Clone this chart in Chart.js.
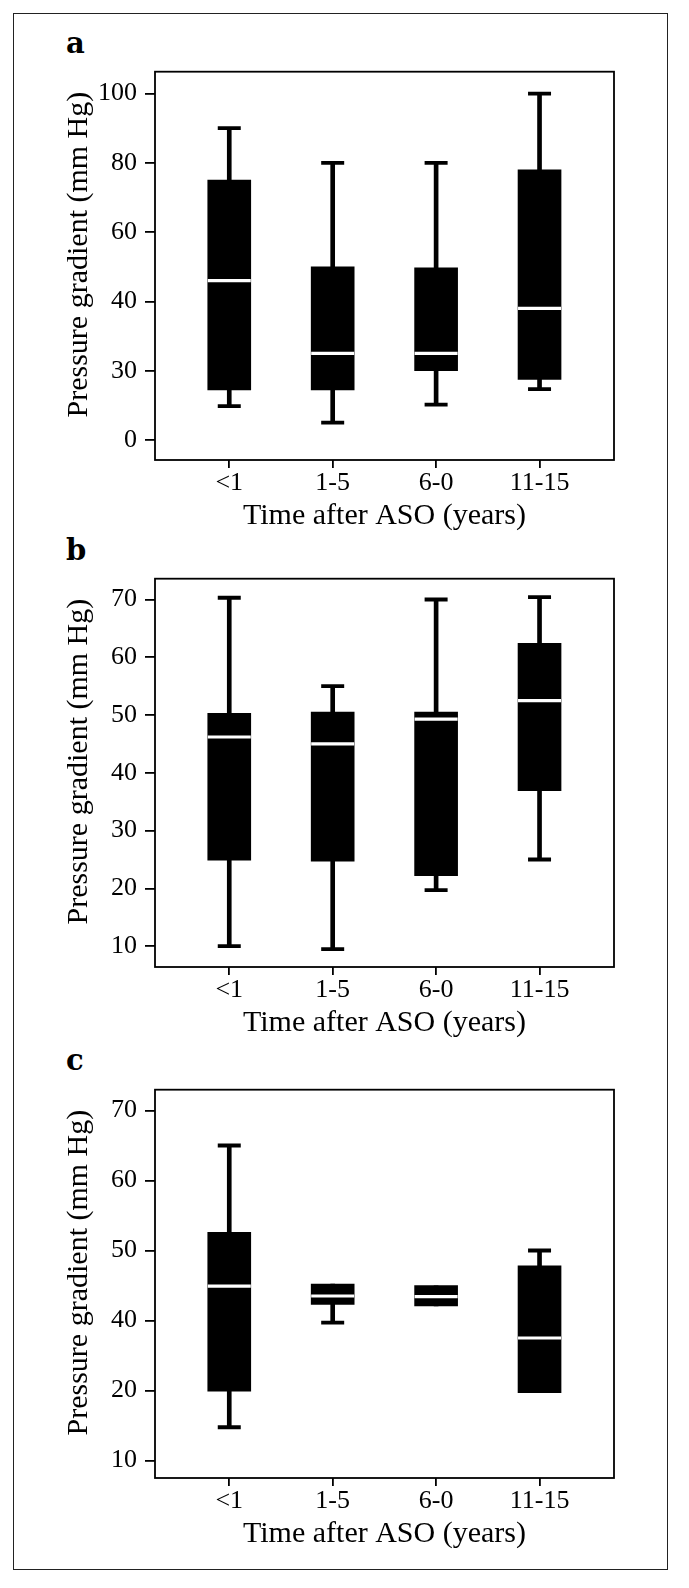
<!DOCTYPE html>
<html>
<head>
<meta charset="utf-8">
<script src="https://cdn.jsdelivr.net/npm/chart.js@4.4.1/dist/chart.umd.min.js"></script>
<style>
  body { margin: 0; background: #fff; width: 689px; height: 1588px; position: relative; overflow: hidden; }
  #frame { position: absolute; left: 13px; top: 13px; width: 655px; height: 1557px; box-sizing: border-box; border: 1.5px solid #222; }
  canvas { position: absolute; left: 20px; }
  .tag { position: absolute; left: 66px; font: bold 29px 'DejaVu Serif', serif; line-height: normal; color: #000; }
</style>
</head>
<body>
<div id="frame"></div>
<div class="tag" style="top:26px">a</div>
<div class="tag" style="top:533px">b</div>
<div class="tag" style="top:1043px">c</div>
<canvas id="cA" width="640" height="493" style="top:47px"></canvas>
<canvas id="cB" width="640" height="493" style="top:554px"></canvas>
<canvas id="cC" width="640" height="493" style="top:1065px"></canvas>
<script>
// ── Data ─────────────────────────────────────────────────
const cats = ['<1', '1-5', '6-0', '11-15'];
const xTitle = 'Time after ASO (years)';
const yTitle = 'Pressure gradient (mm Hg)';

// panel a
const aMin = [9.8, 5, 10.2, 14.7];
const aQ1  = [14.5, 14.5, 20, 17.5];
const aMed = [46, 25, 25, 38];
const aQ3  = [75, 50, 49.7, 78];
const aMax = [90, 80, 80, 100];
const aTickVals = [0, 20, 40, 60, 80, 100];
const aTickLabels = ['0', '30', '40', '60', '80', '100'];

// panel b
const bMin = [10, 9.5, 19.7, 25];
const bQ1  = [24.9, 24.7, 22.2, 36.9];
const bMed = [46.2, 45, 49.3, 52.5];
const bQ3  = [50.3, 50.5, 50.5, 62.4];
const bMax = [70.3, 55, 70, 70.4];
const bTickVals = [10, 20, 30, 40, 50, 60, 70];
const bTickLabels = ['10', '20', '30', '40', '50', '60', '70'];

// panel c (axis labels are printed as in the original figure)
const cMin = [24.75, 39.7, 42.1, 29.7];
const cQ1  = [29.9, 42.3, 42.1, 29.7];
const cMed = [44.9, 43.5, 43.4, 37.5];
const cQ3  = [52.6, 45.2, 45, 47.8];
const cMax = [65, 45.2, 45, 50];
const cTickVals = [20, 30, 40, 50, 60, 70];
const cTickLabels = ['10', '20', '40', '50', '60', '70'];

Chart.defaults.font.family = "'Liberation Serif', serif";
Chart.defaults.font.size = 26;
Chart.defaults.color = '#000';

// ── Plot frame ───────────────────────────────────────────
const boxFrame = {
  id: 'boxFrame',
  afterDraw(c) {
    const { ctx, chartArea: a } = c;
    ctx.save();
    ctx.lineWidth = 1.8; ctx.strokeStyle = '#000';
    ctx.strokeRect(a.left, a.top, a.width, a.height);
    ctx.restore();
  }
};

// ── Box plot from bars + line points ─────────────────────
function mkBox(id, mn, q1, md, q3, mx, tv, tl, yMin, yMax) {
  const xs = cats.map((_, i) => i);
  const capLo = xs.map(i => ({ x: i, y: mn[i] < q1[i] ? mn[i] : null }));
  const capHi = xs.map(i => ({ x: i, y: mx[i] > q3[i] ? mx[i] : null }));
  const stem = { type: 'bar', grouped: false, backgroundColor: '#000', borderWidth: 0, barThickness: 4, order: 3 };
  const cap = { type: 'scatter', pointStyle: 'line', pointRadius: 11.5, pointBorderWidth: 3.8, pointBorderColor: '#000', pointBackgroundColor: '#000', order: 3 };
  new Chart(document.getElementById(id), {
    type: 'bar',
    data: {
      datasets: [
        { ...stem, data: xs.map(i => ({ x: i, y: [mn[i], q1[i]] })) },
        { ...stem, data: xs.map(i => ({ x: i, y: [q3[i], mx[i]] })) },
        { ...cap, data: capLo },
        { ...cap, data: capHi },
        { type: 'bar', grouped: false, backgroundColor: '#000', borderWidth: 0, barThickness: 43, order: 1,
          data: xs.map(i => ({ x: i, y: [q1[i], q3[i]] })) },
        { type: 'scatter', pointStyle: 'line', pointRadius: 21.5, pointBorderWidth: 3.2, pointBorderColor: '#fff', order: 0,
          data: xs.map(i => ({ x: i, y: md[i] })) }
      ]
    },
    options: {
      responsive: false, animation: false, devicePixelRatio: 1,
      layout: { padding: { top: 20, right: 46, bottom: 5, left: 0 } },
      plugins: { legend: { display: false }, tooltip: { enabled: false } },
      scales: {
        x: {
          type: 'linear', min: -0.718, max: 3.72, offset: false,
          afterBuildTicks: ax => { ax.ticks = xs.map(v => ({ value: v })); },
          afterFit: ax => { ax.height = 75; },
          ticks: { callback: v => cats[v], padding: 0, maxRotation: 0, autoSkip: false },
          grid: { offset: false, drawOnChartArea: false, drawTicks: true, tickLength: 8, color: '#000', lineWidth: 1.8 },
          border: { display: false },
          title: { display: true, text: xTitle, font: { size: 30 }, padding: { top: 0, bottom: 1 } }
        },
        y: {
          min: yMin, max: yMax,
          afterBuildTicks: ax => { ax.ticks = tv.map(v => ({ value: v })); },
          afterFit: ax => { ax.width = 135; },
          ticks: { callback: (v, i) => tl[i], padding: 8 },
          grid: { drawOnChartArea: false, drawTicks: true, tickLength: 10, color: '#000', lineWidth: 1.8 },
          border: { display: false },
          // leading spaces lift the title a little, as in the original
          title: { display: true, text: '   ' + yTitle, font: { size: 30 }, padding: { top: 41, bottom: 0 } }
        }
      }
    },
    plugins: [boxFrame]
  });
}

mkBox('cA', aMin, aQ1, aMed, aQ3, aMax, aTickVals, aTickLabels, -5.76, 106.3);
mkBox('cB', bMin, bQ1, bMed, bQ3, bMax, bTickVals, bTickLabels, 6.4, 73.6);
mkBox('cC', cMin, cQ1, cMed, cQ3, cMax, cTickVals, cTickLabels, 17.5, 72.97);
</script>
</body>
</html>
